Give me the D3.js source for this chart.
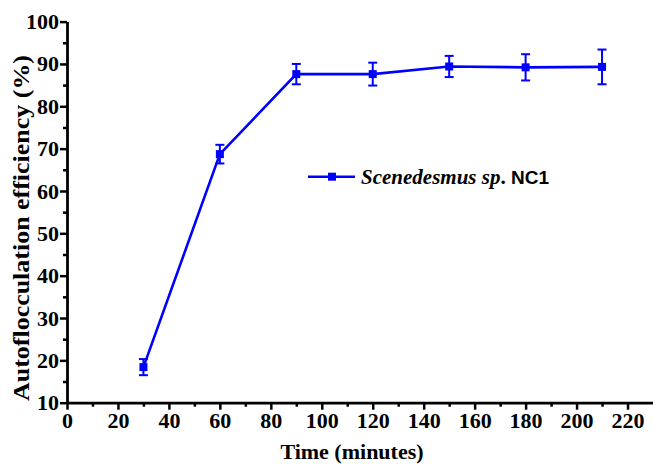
<!DOCTYPE html>
<html>
<head>
<meta charset="utf-8">
<script src="https://cdn.jsdelivr.net/npm/d3@7"></script>
<style>
  body { margin: 0; background: #fff; }
  svg { display: block; }
</style>
</head>
<body>
<div id="chart"></div>
<script>
// data
const times = [30, 60, 90, 120, 150, 180, 210];
const efficiency = [18.4, 68.7, 87.6, 87.6, 89.4, 89.2, 89.3];
const errors = [1.9, 2.2, 2.4, 2.7, 2.5, 3.1, 4.1];
const xTicks = [0, 20, 40, 60, 80, 100, 120, 140, 160, 180, 200, 220];
const yTicks = [10, 20, 30, 40, 50, 60, 70, 80, 90, 100];

const W = 653, H = 464;
const MARGIN = { TOP: 21.6, LEFT: 67, RIGHT: 0, BOTTOM: 61.3 };
const BLUE = "#0000ff";
const SERIF = "'Liberation Serif', 'Times New Roman', serif";
const SANS = "'Liberation Sans', Arial, sans-serif";

const points = times.map((t, i) => ({ t: t, v: efficiency[i], e: errors[i] }));

const svg = d3.select("#chart").append("svg")
  .attr("width", W)
  .attr("height", H);

const x = d3.scaleLinear()
  .domain([0, 230])
  .range([MARGIN.LEFT, W - MARGIN.RIGHT]);

const y = d3.scaleLinear()
  .domain([10, 100])
  .range([H - MARGIN.BOTTOM, MARGIN.TOP]);

// axes
svg.append("g")
  .attr("transform", `translate(0, ${y(10)})`)
  .call(d3.axisBottom(x).tickValues(xTicks).tickSize(7).tickSizeOuter(0).tickPadding(3));

// minor x ticks
svg.append("g")
  .attr("transform", `translate(0, ${y(10)})`)
  .call(d3.axisBottom(x).tickValues(d3.range(10, 230, 20)).tickSize(4).tickSizeOuter(0).tickFormat(""))
  .select(".domain").remove();

svg.append("g")
  .attr("transform", `translate(${x(0)}, 0)`)
  .call(d3.axisLeft(y).tickValues(yTicks).tickSize(7).tickSizeOuter(0).tickPadding(1));

// minor y ticks
svg.append("g")
  .attr("transform", `translate(${x(0)}, 0)`)
  .call(d3.axisLeft(y).tickValues(d3.range(15, 100, 10)).tickSize(4).tickSizeOuter(0).tickFormat(""))
  .select(".domain").remove();

svg.selectAll(".domain").attr("stroke", "#000").attr("stroke-width", 2.8);
svg.selectAll(".tick line").attr("stroke", "#000").attr("stroke-width", 2.5);
svg.selectAll(".tick text")
  .style("font-family", SERIF)
  .style("font-weight", "bold")
  .style("font-size", "22px")
  .attr("fill", "#000");

// axis titles
svg.append("text")
  .attr("x", 352)
  .attr("y", 459)
  .attr("text-anchor", "middle")
  .style("font-family", SERIF)
  .style("font-weight", "bold")
  .style("font-size", "22px")
  .text("Time (minutes)");

// the y title in the figure is stretched along its length
svg.append("text")
  .attr("transform", "translate(29, 228) rotate(-90)")
  .attr("text-anchor", "middle")
  .attr("textLength", 346)
  .attr("lengthAdjust", "spacingAndGlyphs")
  .style("font-family", SERIF)
  .style("font-weight", "bold")
  .style("font-size", "23px")
  .text("Autoflocculation efficiency (%)");

// series line
const line = d3.line()
  .x(d => x(d.t))
  .y(d => y(d.v));

svg.append("path")
  .datum(points)
  .attr("fill", "none")
  .attr("stroke", BLUE)
  .attr("stroke-width", 2.6)
  .attr("d", line);

// error bars
const bars = svg.append("g")
  .attr("stroke", BLUE)
  .attr("stroke-width", 2);

bars.selectAll(".stem")
  .data(points)
  .join("line")
    .attr("class", "stem")
    .attr("x1", d => x(d.t))
    .attr("x2", d => x(d.t))
    .attr("y1", d => y(d.v + d.e))
    .attr("y2", d => y(d.v - d.e));

bars.selectAll(".cap-top")
  .data(points)
  .join("line")
    .attr("class", "cap-top")
    .attr("x1", d => x(d.t) - 4.5)
    .attr("x2", d => x(d.t) + 4.5)
    .attr("y1", d => y(d.v + d.e))
    .attr("y2", d => y(d.v + d.e));

bars.selectAll(".cap-bot")
  .data(points)
  .join("line")
    .attr("class", "cap-bot")
    .attr("x1", d => x(d.t) - 4.5)
    .attr("x2", d => x(d.t) + 4.5)
    .attr("y1", d => y(d.v - d.e))
    .attr("y2", d => y(d.v - d.e));

// markers
svg.selectAll(".marker")
  .data(points)
  .join("rect")
    .attr("class", "marker")
    .attr("x", d => x(d.t) - 4)
    .attr("y", d => y(d.v) - 4)
    .attr("width", 8)
    .attr("height", 8)
    .attr("fill", BLUE);

// legend
const legend = svg.append("g").attr("transform", "translate(308, 176.7)");
legend.append("line")
  .attr("x1", 0).attr("x2", 47)
  .attr("stroke", BLUE).attr("stroke-width", 2.6);
legend.append("rect")
  .attr("x", 20).attr("y", -4)
  .attr("width", 8).attr("height", 8)
  .attr("fill", BLUE);

const legendText = legend.append("text")
  .attr("x", 53)
  .attr("y", 7.3)
  .style("font-weight", "bold");
legendText.append("tspan")
  .style("font-family", SERIF)
  .style("font-style", "italic")
  .style("font-size", "21px")
  .text("Scenedesmus sp");
legendText.append("tspan")
  .style("font-family", SERIF)
  .style("font-size", "21px")
  .text(". ");
legendText.append("tspan")
  .style("font-family", SANS)
  .style("font-size", "19px")
  .text("NC1");
</script>
</body>
</html>
